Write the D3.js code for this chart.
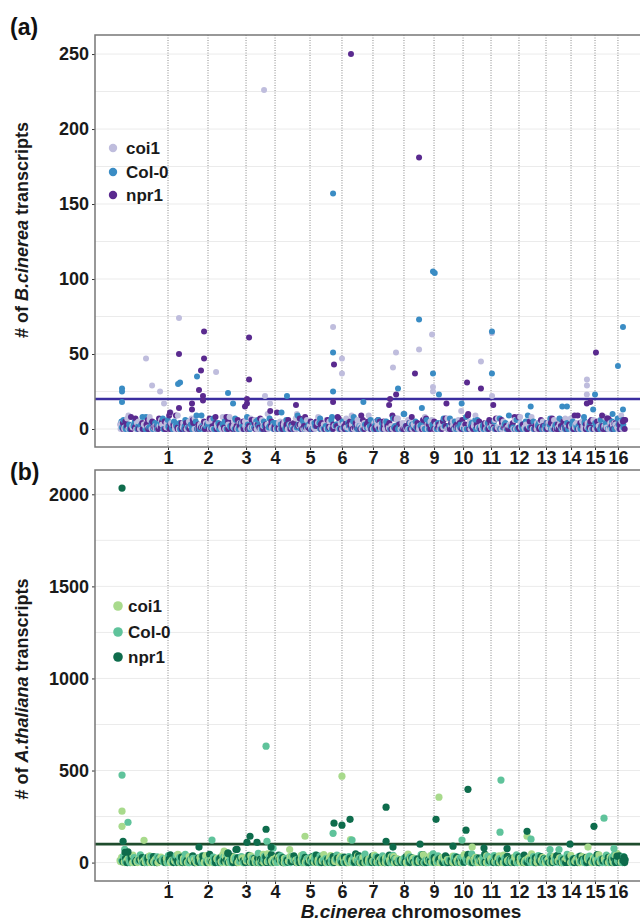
<!DOCTYPE html>
<html><head><meta charset="utf-8">
<script src="https://cdn.jsdelivr.net/npm/d3@7"></script>
<style>body{margin:0;background:#fff}svg{display:block;font-family:"Liberation Sans",Arial,Helvetica,sans-serif}</style>
</head><body><svg id="chart" width="640" height="921"></svg>
<script>
// ---------- DATA ----------
const chromosomeLabels = ["1","2","3","4","5","6","7","8","9","10","11","12","13","14","15","16"];
// cumulative genome position (Mb) at which each chromosome ends
const chromosomeEnds = [4.10,7.52,10.77,13.25,16.24,18.97,21.62,24.27,26.84,29.32,31.71,34.10,36.41,38.55,40.60,42.56];
const seriesNames = ["coi1","Col-0","npr1"];
const topYTicks = [0,50,100,150,200,250];
const botYTicks = [0,500,1000,1500,2000];
const topThreshold = 20;
const botThreshold = 100;

// dense low band (values in genome order), three interleaved sets per genotype
const topBandCoi1 = [3,0,9,1,4,0,2,6,1,0,3,1,11,2,0,4,1,7,0,2,1,5,0,3,1,0,8,2,1,4,0,1,6,0,2,3,1,0,5,2,0,1,10,3,0,2,1,4,0,6,1,2,0,3,1,9,0,2,4,1,0,5,1,3,0,2,7,1,0,4,2,0,1,3,6,0,2,1,0,5,1,12,0,3,2,1,0,4,1,6,0,2,1,3,0,8,1,2,0,4,1,0,5,2,1,0,3,7,1,0,2,4,0,1,6,2,0,3,1,9];
const topBandCol0 = [5,1,0,3,2,8,0,1,4,2,0,6,1,3,0,2,5,1,0,9,2,1,0,4,3,0,1,7,2,0,3,1,5,0,2,1,4,0,11,1,2,0,3,6,1,0,2,4,1,0,8,3,1,0,2,5,0,1,3,2,0,6,1,4,0,2,1,10,0,3,1,2,0,5,1,0,4,2,7,0,1,3,0,2,6,1,0,4,2,1,0,3,9,1,0,2,5,1,0,3,1,4,0,2,7,1,0,3,2,0,5,1,13,0,2,4,1,0,3,6];
const topBandNpr1 = [4,2,0,7,1,3,0,5,2,1,0,9,3,1,0,4,2,6,0,1,3,0,8,2,1,5,0,2,4,1,0,6,3,1,0,12,2,0,4,1,3,0,7,2,1,0,5,3,0,2,1,8,0,4,2,1,0,6,3,0,1,5,2,0,9,1,3,0,4,2,1,0,7,2,0,3,5,1,0,2,4,0,10,1,3,0,2,6,1,0,4,2,0,8,1,3,0,5,2,1,0,4,6,0,2,1,3,0,9,2,0,5,1,3,0,7,2,4,0,6];
const topBand2Coi1 = [0,1,0,2,0,0,3,1,0,0,2,0,1,4,0,0,1,0,2,0,0,1,3,0,0,1,0,0,2,1,0,0,5,0,1,0,0,2,0,1,0,0,3,0,1,0,2,0,0,1,0,4,0,0,1,2,0,0,1,0,0,3,0,1,0,0,2,0,0,1,0,6,0,1,0,0,2,1,0,0,3,0,0,1,0,2,0,0,1,0,0,4,1,0,0,2,0,1,0,0,3,0,0,1,0,2,0,0,5,0,1,0,0,2,0,1,0,3,0,0,1,0,0,2,0,1,0,4,0,0];
const topBand2Col0 = [1,0,0,2,0,3,0,1,0,0,4,0,1,0,2,0,0,1,0,5,0,0,2,1,0,0,3,0,1,0,0,2,0,0,1,6,0,0,2,0,1,0,0,3,0,1,0,0,2,0,4,0,0,1,0,2,0,1,0,0,3,0,0,1,0,2,0,0,5,0,1,0,0,2,0,1,0,3,0,0,1,0,0,2,0,4,0,1,0,0,2,0,0,3,0,1,0,0,1,0,2,0,6,0,0,1,0,2,0,0,3,0,1,0,0,2,0,0,1,4,0,0,2,0,1,0,0,3,0,1];
const topBand2Npr1 = [0,2,0,1,0,0,3,0,1,0,5,0,0,2,0,1,0,0,4,0,1,0,0,2,0,3,0,0,1,0,2,0,0,6,0,1,0,0,2,0,1,0,3,0,0,2,0,1,0,0,4,0,0,1,0,2,0,0,3,0,1,0,0,5,0,0,1,0,2,0,0,3,0,1,0,0,2,0,4,0,0,1,0,2,0,0,1,0,3,0,0,2,0,1,0,5,0,0,1,0,2,0,0,3,0,1,0,0,2,0,4,0,0,1,0,2,0,0,3,0,1,0,0,2,0,6,0,1,0,0];
const topBand3Coi1 = [4,7,2,5,3,8,2,6,4,3,9,2,5,7,3,4,6,2,8,3,5,4,2,7,3,6,10,2,4,5,3,7,2,6,4,8,3,5,2,4,7,3,6,2,9,4,3,5,2,7,4,6,3,2,8,5,3,4,7,2,6,3,5,9,2,4,3,7,5,2,6,4,3,8,2,5,4,6,3,7,2,4,5,3,6,2,8,4,3,5];
const topBand3Col0 = [6,3,5,2,8,4,3,7,2,5,4,6,3,9,2,4,7,3,5,2,6,4,8,3,2,5,7,4,3,6,2,9,5,3,4,7,2,6,3,5,4,8,2,3,6,5,4,2,7,3,10,4,5,2,6,3,4,7,2,5,3,8,4,6,2,3,5,7,4,2,6,3,9,5,4,2,7,3,6,4,5,2,8,3,4,6,2,5,7,3];
const topBand3Npr1 = [5,8,3,4,6,2,7,5,3,9,4,2,6,3,5,7,4,2,8,3,6,5,2,4,7,3,5,11,2,6,4,3,8,5,2,4,6,3,7,2,5,4,9,3,2,6,5,4,7,3,2,8,4,6,3,5,2,7,4,3,6,9,2,5,4,3,7,6,2,4,8,3,5,2,6,4,7,3,5,2,9,4,3,6,5,2,7,4,3,6];
const botBandCoi1 = [12,3,25,0,8,18,2,35,5,0,14,22,1,9,40,4,0,16,7,28,2,11,0,19,6,33,1,13,0,24,8,3,17,0,45,5,10,2,21,0,7,30,3,15,0,12,26,4,9,1,38,6,0,20,11,3,16,0,27,5,8,2,22,0,13,32,4,10,1,18,0,6,42,9,3,15,0,24,7,2,12,0,30,5,17,1,9,0,21,4,36,0,11,3,19,6,0,26,8,2,14,0,33,5,10,1,23,0,7,16,3,28,0,12,4,20,0,9,50,2];
const botBandCol0 = [18,5,0,27,9,2,14,33,1,20,6,0,11,38,4,16,0,23,7,2,30,10,0,15,4,45,1,19,8,0,25,3,12,0,35,6,17,2,9,0,28,13,4,22,0,7,40,1,15,5,0,19,10,3,32,0,12,6,24,1,8,0,36,14,2,20,5,0,27,9,3,17,0,11,48,4,21,0,7,14,2,29,6,0,18,10,1,34,4,0,13,22,3,8,0,26,5,16,1,38,0,10,4,20,7,0,31,2,15,6,0,24,9,3,18,0,12,42,5,0];
const botBandNpr1 = [8,0,22,4,15,1,30,6,0,12,3,19,0,9,26,2,14,0,5,35,1,11,0,20,7,3,16,0,28,4,10,1,24,0,6,18,2,40,0,13,5,21,1,8,0,32,3,15,0,11,6,25,0,4,17,2,38,0,9,14,1,22,5,0,29,3,12,0,19,7,2,34,0,10,4,16,1,27,0,6,13,2,45,0,8,20,3,11,0,24,5,1,17,0,31,7,2,14,0,9,22,4,0,36,6,12,1,18,0,8,28,3,15,0,10,5,20,1,26,30];
const botBand2Coi1 = [5,0,12,2,0,8,20,1,0,6,15,0,3,10,0,25,2,7,0,13,4,0,9,18,1,0,6,22,3,0,11,5,0,16,2,8,0,28,4,0,10,14,1,0,7,19,3,0,12,5,0,9,24,2,0,6,15,1,0,11,4,20,0,8,3,0,13,6,0,17,2,9,0,26,5,1,0,10,14,3,0,7,21,0,4,12,1,0,8,18,2,0,6,15,3,0,11,24,0,5,9,1,0,13,7,0,19,2,10,0,4,16,1,0,8,22,3,0,12,6];
const botBand2Col0 = [10,2,0,7,16,1,0,12,4,22,0,6,9,0,14,3,0,19,5,1,0,11,8,0,24,2,0,13,6,0,17,4,1,0,9,27,0,5,12,2,0,15,7,0,20,3,10,0,6,1,0,14,18,0,4,8,0,23,2,11,0,5,16,1,0,9,13,0,3,21,0,7,10,2,0,15,5,0,12,26,1,0,8,4,0,18,6,0,11,2,14,0,9,3,0,20,5,1,0,13,7,0,16,2,0,10,24,0,4,8,0,12,3,19,0,6,1,0,15,9];
const botBand2Npr1 = [3,0,9,1,14,0,5,2,0,11,0,7,18,1,0,4,10,0,2,15,0,6,1,0,12,3,0,8,20,0,2,5,0,13,1,0,7,16,0,3,9,0,1,11,0,4,22,0,6,2,0,10,1,0,14,5,0,3,8,0,17,2,0,6,12,0,1,9,0,4,19,0,2,7,0,11,3,0,15,1,0,5,8,0,24,2,0,10,4,0,6,13,0,1,9,0,3,16,0,2,7,0,12,5,0,1,10,0,4,18,0,6,2,0,9,3,0,14,1,0];
const botBand3Coi1 = [28,15,40,22,12,35,18,30,25,14,45,20,33,16,27,38,13,24,42,19,31,15,26,36,21,12,48,17,29,23,34,14,39,20,27,16,44,25,18,32,22,13,37,28,19,41,15,26,33,21,17,46,24,14,30,38,20,27,16,35,23,43,18,29,13,36,25,21,40,17,31,24,15,47,22,28,19,34,26,14,39,20,32,18,25,42,16,29,37,23];
const botBand3Col0 = [34,20,14,42,26,17,31,22,38,15,28,45,19,25,36,13,30,21,40,18,27,33,16,24,50,20,29,14,37,23,32,17,44,26,19,35,22,15,41,28,18,30,24,46,16,33,21,27,39,14,25,31,20,43,17,28,36,22,15,34,26,19,48,23,30,16,38,21,27,14,42,25,18,32,29,20,37,15,24,45,22,31,17,35,26,19,40,28,16,33];
const botBand3Npr1 = [22,38,14,27,19,33,25,16,42,21,30,13,36,24,18,45,20,28,15,34,26,12,39,23,17,31,44,19,27,14,37,22,29,16,41,25,18,33,13,30,24,47,20,15,35,27,18,40,22,14,32,26,19,43,16,28,23,36,13,30,21,38,17,25,46,19,29,15,34,24,20,41,14,27,32,18,23,39,16,30,21,35,26,13,44,19,28,22,37,15];

// scattered higher values: [genome position Mb, count]
const topOutCoi1 = [[12.31,226],[5.04,74],[2.22,47],[2.74,29],[3.42,25],[8.21,38],[12.39,22],[12.82,17],[3.76,17],[18.21,68],[18.97,47],[18.97,37],[25.56,53],[23.59,51],[23.33,41],[26.67,63],[31.79,64],[30.85,45],[39.91,33],[39.91,29],[31.8,22],[39.9,23],[26.75,28],[26.75,25]];
const topOutCol0 = [[18.21,157],[26.75,105],[26.9,104],[25.56,73],[31.79,65],[42.99,68],[18.21,51],[26.75,37],[31.79,37],[42.56,42],[18.21,25],[23.76,27],[42.99,13],[40.6,23],[27.26,23],[5.13,31],[4.96,30],[6.58,35],[0.17,27],[0.17,25],[0.17,18],[9.23,24],[14.27,22],[9.66,17],[20.8,18],[25.8,14],[29.2,17],[35.1,15],[37.8,15],[38.2,15],[42.1,10]];
const topOutNpr1 = [[19.74,250],[25.56,181],[5.04,50],[7.18,65],[7.18,47],[6.92,39],[11.03,61],[11.03,33],[6.75,26],[7.09,22],[7.09,19],[10.85,20],[10.85,17],[10.68,15],[15.04,16],[6.15,17],[6.15,13],[5.04,14],[4.27,11],[18.29,43],[25.21,37],[29.66,31],[30.85,27],[40.68,51],[18.21,18],[23.08,20],[42.99,5],[23.0,16],[23.6,23],[27.9,17],[31.9,16],[39.9,17],[40.2,18],[41.2,9]];
const botOutCoi1 = [[0.17,279],[0.17,197],[2.05,121],[15.81,143],[18.97,469],[27.26,355],[34.79,143],[8.9,62],[14.5,71],[19.7,125],[30.1,84],[40.0,84]];
const botOutCol0 = [[0.17,475],[0.68,219],[12.48,632],[12.56,116],[7.86,122],[13.08,78],[32.56,448],[18.21,159],[41.37,241],[32.48,165],[35.13,127],[19.83,122],[29.23,122],[36.75,71],[37.52,71],[42.22,76],[0.4,72]];
const botOutNpr1 = [[0.17,2034],[0.26,116],[12.48,181],[11.11,143],[10.85,110],[11.71,110],[6.75,84],[9.91,71],[9.23,51],[12.91,84],[0.43,56],[0.68,58],[29.74,398],[22.74,301],[19.66,235],[18.29,214],[18.97,203],[27.01,235],[40.51,197],[29.57,176],[34.79,170],[22.74,116],[38.46,100],[25.64,100],[23.33,84],[28.46,89],[31.11,79],[33.08,76],[42.99,12],[42.48,35],[10.0,72],[9.23,51]];

const topColors = ["#bfbddd","#3a8cc4","#5a2a8f"];
const botColors = ["#a8da8c","#5fc39b","#0e6c4c"];

// ---------- DRAW ----------
const svg = d3.select("#chart");
const x = d3.scaleLinear().domain([-2.14, 44.53]).range([95, 641]);
const bandStart = 0, bandEnd = 43.2;
const textCol = "#1a1a1a";

function drawPanel(o) {
  const g = svg.append("g");
  const y = d3.scaleLinear().domain(o.domain).range([o.bottom, o.top]);
  g.append("g").selectAll("line").data(o.grid).join("line")
    .attr("x1", 95).attr("x2", 641).attr("y1", d => y(d)).attr("y2", d => y(d))
    .attr("stroke", "#ebebeb").attr("stroke-width", 1);
  g.append("g").selectAll("line").data(chromosomeEnds).join("line")
    .attr("x1", d => x(d)).attr("x2", d => x(d)).attr("y1", o.top).attr("y2", o.bottom)
    .attr("stroke", "#8a8a8a").attr("stroke-width", 1).attr("stroke-dasharray", "1,1.5");
  g.append("line").attr("x1", 95).attr("x2", 641)
    .attr("y1", y(o.threshold)).attr("y2", y(o.threshold))
    .attr("stroke", o.thrColor).attr("stroke-width", 2.6);
  let pts = [];
  o.bandSets.forEach((set, si) => {
    set.forEach((arr, k) => {
      const step = (bandEnd - bandStart) / arr.length;
      arr.forEach((v, i) => pts.push({p: bandStart + (i + k / 3 + si / 7) * step, v, k}));
    });
  });
  pts.sort((a, b) => a.p - b.p);
  let outs = [];
  o.outs.forEach((arr, k) => arr.forEach(d => outs.push({p: d[0], v: d[1], k})));
  g.append("g").selectAll("circle").data(pts.concat(outs)).join("circle")
    .attr("cx", d => x(d.p)).attr("cy", d => y(d.v)).attr("r", o.r)
    .attr("fill", d => o.colors[d.k]);
  const ya = g.append("g").attr("transform", "translate(95,0)")
    .call(d3.axisLeft(y).tickValues(o.ticks).tickFormat(d3.format("d")).tickSize(3).tickPadding(3));
  const xa = g.append("g").attr("transform", `translate(0,${o.bottom})`)
    .call(d3.axisBottom(x).tickValues(chromosomeEnds).tickFormat((d, i) => chromosomeLabels[i]).tickSize(3).tickPadding(1.5));
  [ya, xa].forEach(a => {
    a.select(".domain").remove();
    a.selectAll(".tick line").attr("stroke", "#333");
    a.selectAll(".tick text").attr("fill", textCol).attr("font-size", 18).attr("font-weight", "bold")
      .attr("font-family", "'Liberation Sans',Arial,sans-serif");
  });
  g.append("rect").attr("x", 95).attr("y", o.top).attr("width", 546).attr("height", o.bottom - o.top)
    .attr("fill", "none").attr("stroke", "#777").attr("stroke-width", 1.5);
  const lg = g.append("g");
  seriesNames.forEach((s, i) => {
    lg.append("circle").attr("cx", o.legX).attr("cy", o.legY[i]).attr("r", o.legR).attr("fill", o.colors[i]);
    lg.append("text").attr("x", o.legX + o.legDx).attr("y", o.legY[i] + 6)
      .attr("font-size", 17).attr("font-weight", "bold").attr("fill", textCol).text(s);
  });
  g.append("text").attr("x", 10).attr("y", o.tagY).attr("font-size", 23).attr("font-weight", "bold")
    .attr("fill", "#111").text(o.tag);
  const t = g.append("text").attr("transform", `translate(28,${o.titleY}) rotate(-90)`)
    .attr("text-anchor", "middle").attr("font-size", 18).attr("font-weight", "bold").attr("fill", textCol);
  t.append("tspan").text("# of ");
  t.append("tspan").attr("font-style", "italic").text(o.species);
  t.append("tspan").text(" transcripts");
}

drawPanel({
  top: 35, bottom: 447, domain: [-12, 262.7], ticks: topYTicks,
  grid: d3.range(0, 251, 25), threshold: topThreshold, thrColor: "#3a2d9f",
  bandSets: [[topBandCoi1, topBandCol0, topBandNpr1], [topBand2Coi1, topBand2Col0, topBand2Npr1], [topBand3Coi1, topBand3Col0, topBand3Npr1]],
  outs: [topOutCoi1, topOutCol0, topOutNpr1],
  colors: topColors, r: 3, legX: 113, legY: [148, 172, 195], legR: 4.2, legDx: 13,
  tag: "(a)", tagY: 35, titleY: 230, species: "B.cinerea"
});
drawPanel({
  top: 470, bottom: 881, domain: [-100, 2132], ticks: botYTicks,
  grid: d3.range(0, 2001, 250), threshold: botThreshold, thrColor: "#1f4c2d",
  bandSets: [[botBandCoi1, botBandCol0, botBandNpr1], [botBand2Coi1, botBand2Col0, botBand2Npr1], [botBand3Coi1, botBand3Col0, botBand3Npr1]],
  outs: [botOutCoi1, botOutCol0, botOutNpr1],
  colors: botColors, r: 3.6, legX: 118, legY: [606, 632, 657], legR: 4.8, legDx: 10,
  tag: "(b)", tagY: 480, titleY: 689, species: "A.thaliana"
});

const xt = svg.append("text").attr("x", 411).attr("y", 918).attr("text-anchor", "middle")
  .attr("font-size", 19).attr("font-weight", "bold").attr("fill", textCol);
xt.append("tspan").attr("font-style", "italic").text("B.cinerea");
xt.append("tspan").text(" chromosomes");
</script></body></html>
